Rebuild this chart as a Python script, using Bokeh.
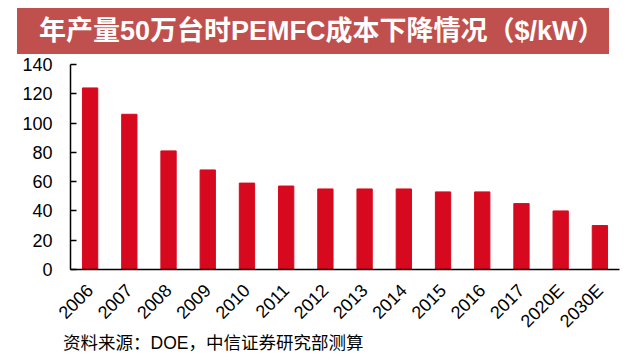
from bokeh.plotting import figure
from bokeh.models import FixedTicker, Range1d, Div
from bokeh.layouts import column
from bokeh.embed import file_html
from bokeh.resources import INLINE
import math

title_text = "年产量50万台时PEMFC成本下降情况（$/kW）"
source_text = "资料来源：DOE，中信证券研究部测算"
years = ["2006", "2007", "2008", "2009", "2010", "2011", "2012", "2013",
         "2014", "2015", "2016", "2017", "2020E", "2030E"]
costs = [124, 106, 81, 68, 59, 57, 55, 55, 55, 53, 53, 45, 40, 30]
y_ticks = [0, 20, 40, 60, 80, 100, 120, 140]

W = 632
FONT = "'Liberation Sans', 'Noto Sans CJK SC', sans-serif"

title_html = (
    '<div style="padding:8px 0 0 17px; margin:0;">'
    '<div style="width:592px; height:46px; padding-left:22px; background:#c0504d; color:#ffffff; '
    f'font-family:{FONT}; font-weight:bold; font-size:27px; line-height:46px; '
    f'white-space:nowrap; overflow:hidden;">{title_text}</div></div>'
)
title_div = Div(text=title_html, width=W, height=54, margin=0)

# main chart
p = figure(x_range=years, y_range=Range1d(0, 140), width=W, height=289,
           output_backend="svg", toolbar_location=None,
           min_border_left=70, min_border_right=13,
           min_border_top=10, min_border_bottom=74)
p.x_range.range_padding = 0
p.background_fill_color = "white"
p.border_fill_color = "white"
p.outline_line_color = None
p.grid.grid_line_color = None

p.vbar(x=years, top=costs, width=0.39, color="#d6091f")

p.yaxis.ticker = FixedTicker(ticks=y_ticks)
p.yaxis.axis_line_color = "black"
p.yaxis.axis_line_width = 1.5
p.yaxis.major_tick_in = 6
p.yaxis.major_tick_out = 0
p.yaxis.major_tick_line_color = "black"
p.yaxis.major_tick_line_width = 1.5
p.yaxis.minor_tick_line_color = None
p.yaxis.major_label_text_font = "Liberation Sans"
p.yaxis.major_label_text_font_size = "18px"
p.yaxis.major_label_text_color = "black"
p.yaxis.major_label_standoff = 18

p.xaxis.axis_line_color = "black"
p.xaxis.axis_line_width = 1.5
p.xaxis.major_tick_line_color = None
p.xaxis.minor_tick_line_color = None
p.xaxis.major_label_orientation = math.pi / 4
p.xaxis.major_label_text_font = "Liberation Sans"
p.xaxis.major_label_text_font_size = "18px"
p.xaxis.major_label_text_color = "black"
p.xaxis.major_label_standoff = 12

source_html = (
    '<div style="position:relative; top:-10px; padding-left:63px; margin:0; '
    f'font-family:{FONT}; font-size:17.5px; line-height:20px; color:#000000; '
    f'white-space:nowrap;">{source_text}</div>'
)
source_div = Div(text=source_html, width=W, height=10, margin=0)

layout = column(title_div, p, source_div, spacing=0)
open("out.html", "w").write(file_html(layout, INLINE))
